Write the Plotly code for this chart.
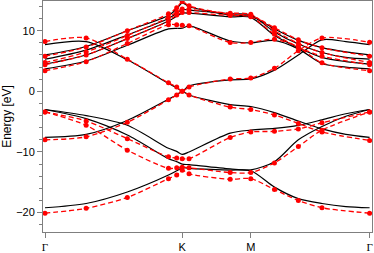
import plotly.graph_objects as go

# k-path coordinates (Γ-K-M-Γ, hexagonal BZ path length units)
k_black = [0, 0.2, 0.4, 0.6, 0.64, 0.6667, 0.70, 0.9, 1.0, 1.115, 1.231, 1.346, 1.462, 1.5774]
k_red = [0, 0.2, 0.4, 0.6, 0.64, 0.6667, 0.70, 0.9, 1.0, 1.115, 1.231, 1.346, 1.5774]

tick_vals = [0, 0.6667, 1.0, 1.5774]
tick_text = ["Γ", "K", "M", "Γ"]

# black (solid) bands
pi_black = [-7.6, -7.1, -4.8, -1.3, -0.6, 0.0, -0.6, -2.2, -2.5, -3.5, -4.9, -6.2, -7.1, -7.6]
pistar_black = [7.7, 8.2, 5.2, 1.3, 0.6, 0.05, 0.9, 1.9, 2.05, 3.5, 6.0, 8.5, 8.2, 7.7]
alpha_black = [-3.0, -4.0, -5.6, -9.4, -9.9, -10.4, -10.0, -6.9, -6.4, -6.1, -5.6, -4.7, -3.7, -3.0]
sigma2_black = [-3.0, -4.5, -7.2, -11.1, -11.6, -12.0, -12.1, -12.8, -12.95, -11.6, -8.0, -5.8, -4.1, -3.0]
sigma1_black = [-19.2, -18.5, -16.6, -13.8, -13.1, -12.6, -12.7, -13.0, -13.1, -15.8, -17.7, -18.5, -19.0, -19.2]
top_black = [6.0, 7.4, 10.0, 12.5, 13.6, 14.6, 14.0, 12.6, 12.4, 10.3, 8.4, 7.2, 6.5, 6.0]
up2_black = [5.3, 6.8, 9.3, 12.0, 12.9, 13.5, 13.4, 12.8, 12.6, 9.8, 7.8, 6.4, 5.6, 5.3]
up3_black = [4.5, 6.0, 8.7, 11.6, 12.4, 12.9, 12.9, 12.3, 12.2, 9.2, 7.2, 5.6, 4.9, 4.5]
low_black = [3.7, 5.0, 7.6, 10.3, 10.4, 10.4, 10.8, 8.3, 8.0, 8.4, 7.0, 4.6, 4.0, 3.7]

# red (dashed, markers) bands
pi_red = [-8.0, -7.5, -5.1, -1.4, -0.6, 0.0, -0.6, -2.6, -3.0, -3.9, -5.3, -6.7, -8.1]
pistar_red = [8.2, 8.8, 5.3, 1.4, 0.7, 0.0, 0.7, 2.05, 2.2, 3.8, 6.7, 8.8, 8.1]
alpha_red = [-3.4, -4.9, -7.8, -10.8, -11.0, -11.1, -11.1, -7.6, -6.7, -6.6, -6.2, -5.2, -3.4]
sigma2_red = [-3.4, -5.6, -9.7, -12.7, -12.6, -12.5, -12.6, -13.4, -13.4, -11.8, -9.1, -6.4, -3.4]
sigma1_red = [-20.1, -19.3, -17.5, -14.4, -13.8, -13.0, -13.6, -14.5, -14.4, -16.2, -18.0, -19.2, -20.1]
top_red = [5.8, 7.3, 10.0, 12.8, 13.8, 14.8, 14.1, 12.7, 12.5, 10.5, 8.5, 7.2, 5.8]
up2_red = [4.75, 6.5, 9.2, 12.2, 13.1, 13.6, 13.5, 12.9, 12.7, 10.0, 7.9, 6.4, 4.75]
up3_red = [4.4, 6.0, 8.7, 11.6, 12.6, 13.0, 13.0, 12.5, 12.3, 9.4, 7.3, 5.8, 4.4]
low_red = [3.4, 4.9, 7.9, 11.0, 11.0, 10.9, 10.8, 8.05, 8.05, 8.6, 7.3, 4.7, 3.4]

black_bands = [pi_black, pistar_black, alpha_black, sigma2_black, sigma1_black,
               top_black, up2_black, up3_black, low_black]
red_bands = [pi_red, pistar_red, alpha_red, sigma2_red, sigma1_red,
             top_red, up2_red, up3_red, low_red]

fig = go.Figure()
for band in black_bands:
    fig.add_trace(go.Scatter(
        x=k_black, y=band, mode="lines",
        line=dict(color="black", width=1.2, shape="spline", smoothing=0.8),
        showlegend=False, hoverinfo="skip"))
for band in red_bands:
    fig.add_trace(go.Scatter(
        x=k_red, y=band, mode="lines+markers",
        line=dict(color="#ff0000", width=1.3, dash="5px,3px", shape="spline", smoothing=0.8),
        marker=dict(color="#ff0000", size=5),
        showlegend=False, hoverinfo="skip"))

axis_gray = "#7f7f7f"
fig.update_layout(
    width=374, height=253,
    margin=dict(l=43, r=2, t=1, b=21, autoexpand=False),
    paper_bgcolor="white", plot_bgcolor="white",
    font=dict(family="Liberation Sans, Arial, sans-serif", size=11, color="black"),
    xaxis=dict(
        range=[-0.0097, 1.589],
        tickmode="array", tickvals=tick_vals,
        ticktext=["<span style='font-family:Liberation Serif'>%s</span>" % t if t == "Γ" else t
                  for t in tick_text],
        ticks="outside", ticklen=5, tickcolor=axis_gray, tickwidth=1,
        showline=True, linecolor=axis_gray, linewidth=1, mirror=True,
        showgrid=False, zeroline=False, automargin=False,
        tickfont=dict(size=11),
    ),
    yaxis=dict(
        range=[-23.2, 14.9],
        tickmode="linear", tick0=0, dtick=10,
        ticks="outside", ticklen=5, tickcolor=axis_gray, tickwidth=1,
        minor=dict(dtick=2, tick0=0, ticks="outside", ticklen=3, tickcolor=axis_gray),
        showline=True, linecolor=axis_gray, linewidth=1, mirror=True,
        showgrid=False, zeroline=False, automargin=False,
        title=dict(text="Energy [eV]", font=dict(size=12), standoff=4),
    ),
)

fig.write_html("out.html", config={"displayModeBar": False},
               post_script="document.body.style.margin='0';document.body.style.overflow='hidden';")
